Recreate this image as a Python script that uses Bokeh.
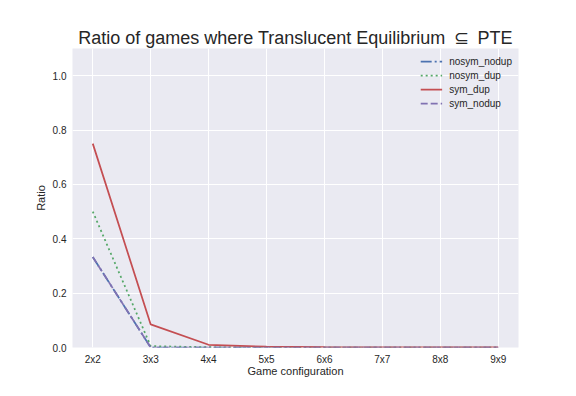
from bokeh.plotting import figure
from bokeh.models import Range1d, FixedTicker, SingleIntervalTicker, PrintfTickFormatter, Legend, LegendItem
from bokeh.embed import file_html
from bokeh.resources import INLINE

configs = ["2x2", "3x3", "4x4", "5x5", "6x6", "7x7", "8x8", "9x9"]
nosym_nodup = [0.333, 0.0, 0.0, 0.0, 0.0, 0.0, 0.0, 0.0]
nosym_dup = [0.5, 0.005, 0.001, 0.0, 0.0, 0.0, 0.0, 0.0]
sym_dup = [0.75, 0.085, 0.01, 0.003, 0.001, 0.0005, 0.0003, 0.0002]
sym_nodup = [0.333, 0.0, 0.0, 0.0, 0.0, 0.0, 0.0, 0.0]

series = [
    ("nosym_nodup", nosym_nodup, "#4C72B0", "11 3 2 3"),
    ("nosym_dup", nosym_dup, "#55A868", "2 3"),
    ("sym_dup", sym_dup, "#C44E52", "solid"),
    ("sym_nodup", sym_nodup, "#8172B2", "7 3"),
]

FONT = "Liberation Sans"
TXT = "#262626"

xs = list(range(len(configs)))

p = figure(width=568, height=388, output_backend="svg", toolbar_location=None,
           x_range=Range1d(-0.35, len(configs) - 1 + 0.35), y_range=Range1d(0, 1.1),
           min_border_left=72, min_border_right=50, min_border_top=48, min_border_bottom=41,
           title="Ratio of games where Translucent Equilibrium \u2009\u2286\u2009 PTE")

p.background_fill_color = "#EAEAF2"
p.border_fill_color = "white"
p.outline_line_color = None

p.title.align = "center"
p.title.text_font = FONT
p.title.text_font_size = "18px"
p.title.text_font_style = "normal"
p.title.text_color = TXT
p.title.standoff = 2

p.xaxis.ticker = FixedTicker(ticks=xs)
p.xaxis.major_label_overrides = {i: c for i, c in enumerate(configs)}
p.yaxis.ticker = SingleIntervalTicker(interval=0.2, num_minor_ticks=0)
p.yaxis.formatter = PrintfTickFormatter(format="%.1f")

for ax in (p.xaxis[0], p.yaxis[0]):
    ax.axis_line_color = None
    ax.major_tick_line_color = None
    ax.minor_tick_line_color = None
    ax.major_tick_out = 0
    ax.major_tick_in = 0
    ax.minor_tick_out = 0
    ax.major_label_text_font = FONT
    ax.major_label_text_font_size = "10px"
    ax.major_label_text_color = TXT
    ax.axis_label_text_font = FONT
    ax.axis_label_text_font_size = "11px"
    ax.axis_label_text_font_style = "normal"
    ax.axis_label_text_color = TXT
    ax.major_label_standoff = 6

p.xaxis.axis_label = "Game configuration"
p.yaxis.axis_label = "Ratio"
p.xaxis.axis_label_standoff = -3
p.yaxis.axis_label_standoff = 3

p.xgrid.ticker = FixedTicker(ticks=xs)
p.ygrid.ticker = SingleIntervalTicker(interval=0.2, num_minor_ticks=0)
p.grid.grid_line_color = "white"
p.grid.grid_line_width = 1

items = []
for name, vals, color, dash in series:
    r = p.line(xs, vals, line_color=color, line_width=1.75, line_dash=dash)
    items.append(LegendItem(label=name, renderers=[r]))

legend = Legend(items=items, location="top_right")
legend.background_fill_alpha = 0
legend.border_line_alpha = 0
legend.label_text_font = FONT
legend.label_text_font_size = "10px"
legend.label_text_color = TXT
legend.glyph_width = 22
legend.glyph_height = 14
legend.label_height = 14
legend.label_standoff = 7
legend.spacing = 0
legend.padding = 4
legend.margin = 2
p.add_layout(legend)

open("out.html", "w").write(file_html(p, INLINE))
